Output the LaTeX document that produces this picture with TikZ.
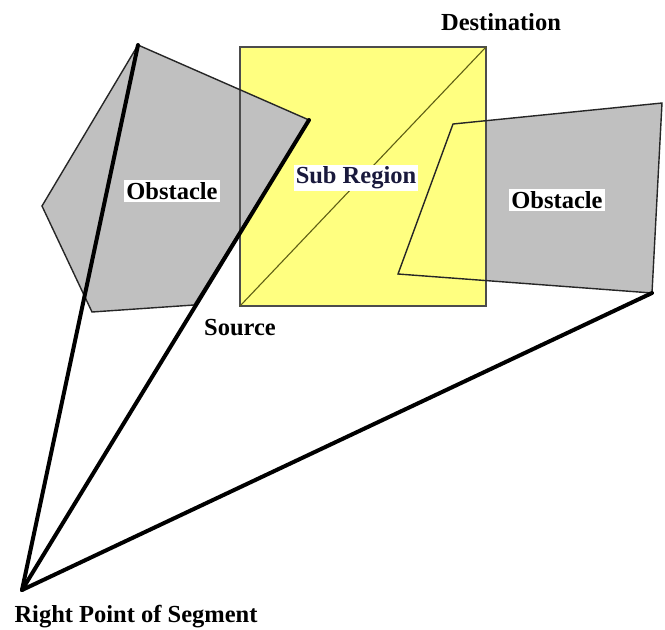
\documentclass[tikz,border=0pt]{standalone}
\usepackage{fontspec}
\setmainfont{Liberation Serif}
\begin{document}
\begin{tikzpicture}[x=1pt,y=-1pt,
  lbl/.style={font=\fontsize{24.5}{28}\selectfont\bfseries, text=black, inner sep=2pt},
  boxlbl/.style={lbl, fill=white},
  outline/.style={draw=black!85, line width=1.4pt, line join=miter},
  thick line/.style={draw=black, line width=4pt, line cap=round},
  ]
\definecolor{obsgray}{RGB}{192,192,192}
\definecolor{subyellow}{RGB}{255,255,128}
\definecolor{olive}{RGB}{95,95,20}
\useasboundingbox (0,0) rectangle (665,630);
% left obstacle
\coordinate (A1) at (138,45);
\coordinate (A2) at (309,120);
\coordinate (A3) at (194,305);
\coordinate (A4) at (92,312);
\coordinate (A5) at (42,206);
% right obstacle
\coordinate (B1) at (453,124);
\coordinate (B2) at (662,103);
\coordinate (B3) at (652,293);
\coordinate (B4) at (398,274);
% sub region
\coordinate (S1) at (240,47);
\coordinate (S2) at (486,306);
\coordinate (Src) at (240,306);
\coordinate (Dst) at (486,47);
\coordinate (R) at (22,590);
% fills
\fill[obsgray] (B1) -- (B2) -- (B3) -- (B4) -- cycle;
\fill[subyellow] (S1) rectangle (S2);
\fill[obsgray] (A1) -- (A2) -- (A3) -- (A4) -- (A5) -- cycle;
% sub region outline and diagonal
\draw[draw=black!70, line width=1.3pt] (S1) rectangle (S2);
\draw[draw=olive, line width=1.1pt] (Src) -- (Dst);
% obstacle outlines
\draw[outline] (A1) -- (A2) -- (A3) -- (A4) -- (A5) -- cycle;
\draw[outline] (B1) -- (B2) -- (B3) -- (B4) -- cycle;
% thick lines
\draw[thick line] (R) -- (A1);
\draw[thick line] (R) -- (A2);
\draw[thick line] (R) -- (B3);
% labels
\node[boxlbl] (o1) at (172,191) {Obstacle};
\node[boxlbl] (o2) at (557,200) {Obstacle};
\node[boxlbl, text={rgb,255:red,25;green,25;blue,60}] (sr) at (356,178) {Sub Region};
\node[lbl] (dl) at (501,22) {Destination};
\node[lbl] (sl) at (240,328) {Source};
\node[lbl] (rl) at (136,617) {Right Point of Segment};
\end{tikzpicture}
\end{document}
